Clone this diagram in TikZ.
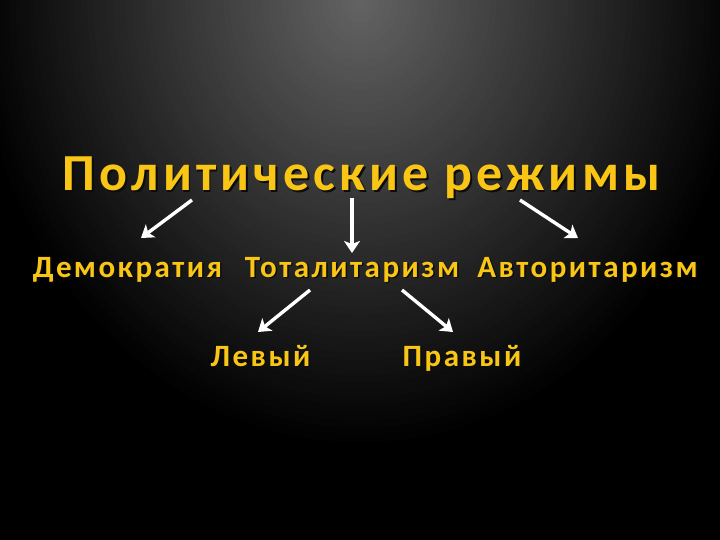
\documentclass[tikz,border=0pt]{standalone}
\usepackage{fontspec}
\usetikzlibrary{arrows.meta}
\newfontfamily\carl[LetterSpace=8]{Carlito}
\definecolor{gold}{RGB}{250,198,22}
\definecolor{bgc}{RGB}{100,100,100}
\definecolor{shadowc}{RGB}{12,12,12}
\newcommand\shd[1]{\makebox[0pt][l]{\kern1.5pt\raisebox{-1.5pt}{\color{shadowc}#1}}#1}
\begin{document}
\begin{tikzpicture}[x=1pt,y=-1pt,
  lbl/.style={text=gold, inner sep=0pt, anchor=base},
  bigtxt/.style={lbl, font=\carl\bfseries\fontsize{52}{60}\selectfont},
  midtxt/.style={lbl, font=\carl\bfseries\fontsize{31}{36}\selectfont},
  arr/.style={white, line width=3.4pt, -{Stealth[length=12pt,width=16pt,inset=3pt]}}]
\useasboundingbox (0,0) rectangle (720,540);
\fill[black] (0,0) rectangle (720,540);
\begin{scope}
\clip (0,0) rectangle (720,540);
\foreach \i in {60,59,...,1}{
  \pgfmathsetmacro\f{\i/60}
  \pgfmathsetmacro\p{100*(1-\f)}
  \fill[bgc!\p!black] (360,0) ellipse [x radius=\f*390, y radius=\f*450];
}
\end{scope}

\node[bigtxt] (title) at (361.5,191) {\shd{Политические режимы}};
\node[midtxt] (dem) at (127.5,277) {\shd{Демократия}};
\node[midtxt] (tot) at (352,277) {\shd{Тоталитаризм}};
\node[midtxt] (avt) at (587.5,277) {\shd{Авторитаризм}};
\node[midtxt] (lev) at (260.5,366) {\shd{Левый}};
\node[midtxt] (pra) at (462,366) {\shd{Правый}};

\coordinate (a1s) at (192,200);
\coordinate (a1e) at (141,238);
\coordinate (a2s) at (352,198);
\coordinate (a2e) at (352,253);
\coordinate (a3s) at (520,200);
\coordinate (a3e) at (578,238);
\coordinate (a4s) at (310,290);
\coordinate (a4e) at (258,332);
\coordinate (a5s) at (402,290);
\coordinate (a5e) at (453,332);

\draw[arr] (a1s) -- (a1e);
\draw[arr] (a2s) -- (a2e);
\draw[arr] (a3s) -- (a3e);
\draw[arr] (a4s) -- (a4e);
\draw[arr] (a5s) -- (a5e);
\end{tikzpicture}
\end{document}
